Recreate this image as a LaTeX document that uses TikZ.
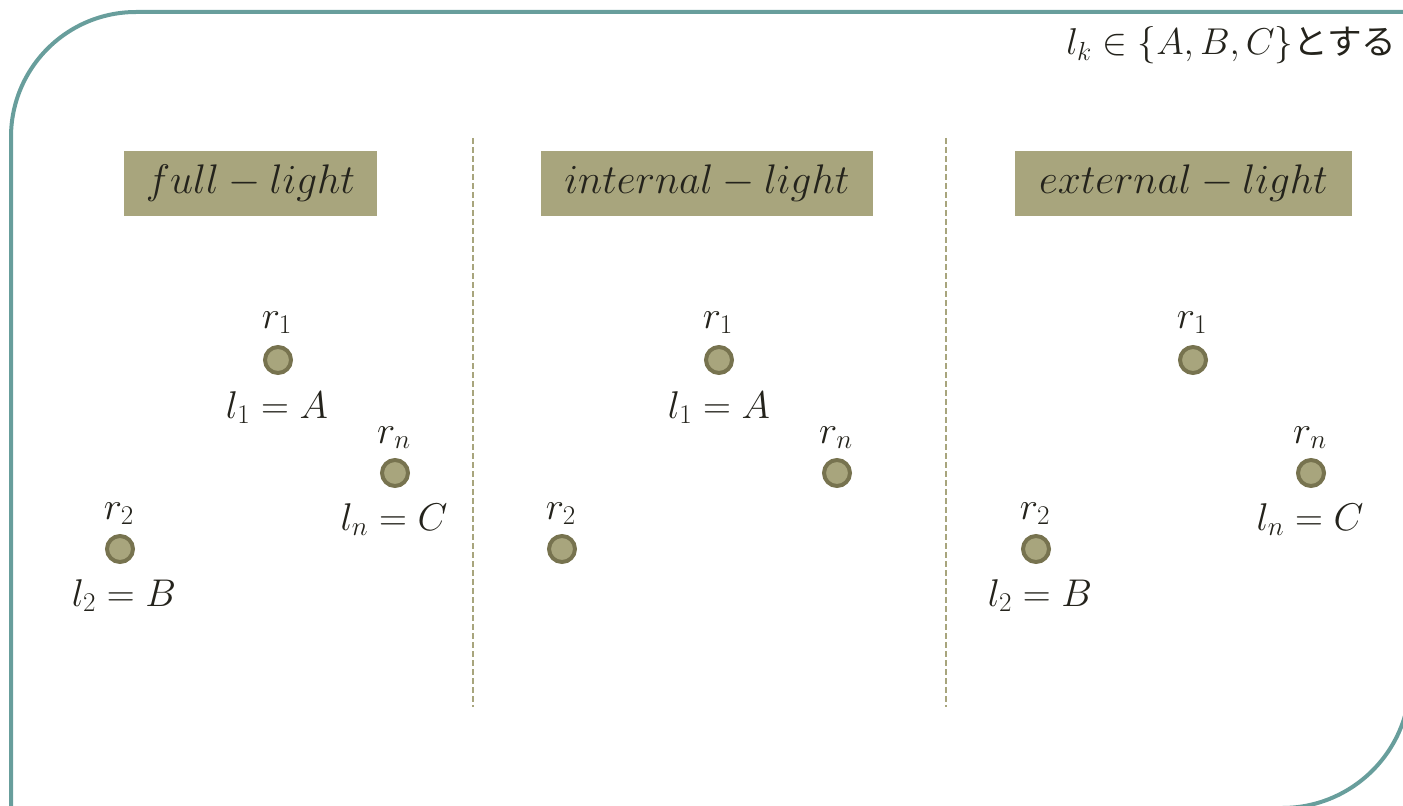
\RequirePackage{fix-cm}
\documentclass[tikz,border=0pt]{standalone}
\usepackage{fontspec}
\newfontfamily\jpfont{Noto Sans CJK JP}
\definecolor{frameteal}{HTML}{689E9C}
\definecolor{khaki}{HTML}{A8A57D}
\definecolor{dotedge}{HTML}{77734F}
\definecolor{ink}{HTML}{24231C}
\tikzset{
  frameline/.style={draw=frameteal, line width=3pt},
  titlebox/.style={fill=khaki, inner sep=0pt, minimum height={65*0.75pt}, text=ink, font=\fontsize{31}{34}\selectfont},
  sepline/.style={draw=khaki, line width=1.5pt, dash pattern=on 4.5pt off 2.25pt},
  dot/.style={circle, fill=khaki, draw=dotedge, line width=3pt, minimum size={26*0.75pt}, inner sep=0pt},
  lbl/.style={anchor=base, text=ink, inner sep=0pt, font=\fontsize{29}{32}\selectfont},
}
\begin{document}
\begin{tikzpicture}[x=0.75pt, y=-0.75pt]
\useasboundingbox (0,0) rectangle (1403,806);
\begin{scope}
\clip (0,0) rectangle (1403,806);
\draw[frameline] (11,900) -- (11,137) arc[start angle=180, end angle=270, radius=125] -- (1500,12);
\draw[frameline] (1410,-50) -- (1410,680) arc[start angle=0, end angle=90, radius=128] -- (-50,808);
\end{scope}

% top note
\node[anchor=base west, inner sep=0pt, text=ink, font=\fontsize{28}{32}\selectfont] (note) at (1066,55)
  {$l_k\in\{A,B,C\}$\jpfont\fontsize{26}{30}\selectfont とする};

% title boxes
\node[titlebox, minimum width={253*0.75pt}] (t1) at (250.5,183.5) {$full-light$};
\node[titlebox, minimum width={332*0.75pt}] (t2) at (707,183.5) {$internal-light$};
\node[titlebox, minimum width={337*0.75pt}] (t3) at (1183.5,183.5) {$external-light$};

% separators
\coordinate (s1a) at (473,138); \coordinate (s1b) at (473,707);
\coordinate (s2a) at (946,138); \coordinate (s2b) at (946,707);
\draw[sepline] (s1a) -- (s1b);
\draw[sepline] (s2a) -- (s2b);

% panel 1
\node[dot] (a1) at (278,360) {};
\node[dot] (an) at (395,473) {};
\node[dot] (a2) at (120,549) {};
\node[lbl] (a1r) at (277,328) {$r_1$};
\node[lbl] (a1l) at (277,418) {$l_1=A$};
\node[lbl] (anr) at (394,443) {$r_n$};
\node[lbl] (anl) at (394,530) {$l_n=C$};
\node[lbl] (a2r) at (119,519) {$r_2$};
\node[lbl] (a2l) at (124,606) {$l_2=B$};

% panel 2
\node[dot] (b1) at (719,360) {};
\node[dot] (bn) at (837,473) {};
\node[dot] (b2) at (562,549) {};
\node[lbl] (b1r) at (718,328) {$r_1$};
\node[lbl] (b1l) at (719,418) {$l_1=A$};
\node[lbl] (bnr) at (836,443) {$r_n$};
\node[lbl] (b2r) at (561,519) {$r_2$};

% panel 3
\node[dot] (c1) at (1193,360) {};
\node[dot] (cn) at (1311,473) {};
\node[dot] (c2) at (1036,549) {};
\node[lbl] (c1r) at (1192,328) {$r_1$};
\node[lbl] (cnr) at (1310,443) {$r_n$};
\node[lbl] (cnl) at (1310,530) {$l_n=C$};
\node[lbl] (c2r) at (1035,519) {$r_2$};
\node[lbl] (c2l) at (1040,606) {$l_2=B$};
\end{tikzpicture}
\end{document}
